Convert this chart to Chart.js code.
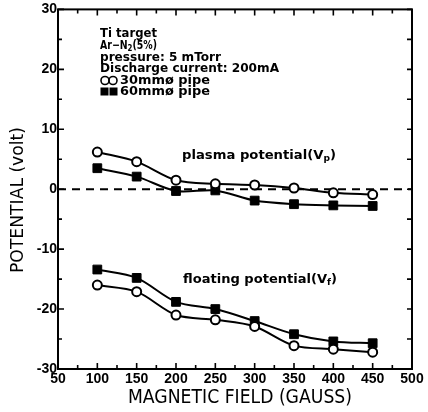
<!DOCTYPE html>
<html>
<head>
<meta charset="utf-8">
<script src="https://cdn.jsdelivr.net/npm/chart.js@4/dist/chart.umd.min.js"></script>
<style>
html,body{margin:0;padding:0;background:#fff;}
#wrap{width:428px;height:412px;}
</style>
</head>
<body>
<div id="wrap"><canvas id="c" width="428" height="412"></canvas></div>
<script>
// ---- data ----
const fields = [100, 150, 200, 250, 300, 350, 400, 450];           // magnetic field (gauss)
const plasma30 = [6.2, 4.6, 1.5, 0.9, 0.7, 0.2, -0.6, -0.9];        // Vp, 30mm pipe (open circles)
const plasma60 = [3.5, 2.1, -0.3, -0.2, -1.9, -2.5, -2.7, -2.8];    // Vp, 60mm pipe (filled squares)
const float30 = [-16.0, -17.1, -21.0, -21.8, -22.9, -26.1, -26.7, -27.2]; // Vf, 30mm pipe
const float60 = [-13.4, -14.8, -18.8, -20.0, -22.0, -24.2, -25.4, -25.7]; // Vf, 60mm pipe
const zeroLine = [50, 500];
const xTicks = [50, 500, 50];   // min, max, step
const yTicks = [-30, 30, 10];

const pts = (arr) => fields.map((f, i) => ({x: f, y: arr[i]}));

const circleStyle = {pointStyle: 'circle', pointRadius: 4.5, pointBorderWidth: 2, pointBackgroundColor: '#fff', pointBorderColor: '#000'};
const squareStyle = {pointStyle: 'rect', pointRadius: 6.2, pointBorderWidth: 1, pointBackgroundColor: '#000', pointBorderColor: '#000'};
const lineBase = {borderColor: '#000', borderWidth: 2, tension: 0.3, fill: false, showLine: true};

function drawFit(ctx, segs, x, y, targetW, font, subFont) {
  // segs: array of [text, isSub]
  let total = 0;
  const widths = segs.map(s => { ctx.font = s[1] ? subFont : font; const w = ctx.measureText(s[0]).width; total += w; return w; });
  const sc = targetW / total;
  ctx.save();
  ctx.translate(x, y);
  ctx.scale(sc, 1);
  ctx.textAlign = 'left';
  ctx.textBaseline = 'middle';
  ctx.fillStyle = '#000';
  let cx = 0;
  segs.forEach((s, i) => {
    ctx.font = s[1] ? subFont : font;
    ctx.fillText(s[0], cx, s[1] ? 3 : 0);
    cx += widths[i];
  });
  ctx.restore();
}

const decor = {
  id: 'decor',
  afterDraw(chart) {
    const ctx = chart.ctx;
    const xs = chart.scales.x, ys = chart.scales.y;
    const a = chart.chartArea;
    ctx.save();
    ctx.strokeStyle = '#000';
    ctx.lineWidth = 2;
    ctx.strokeRect(a.left, a.top, a.right - a.left, a.bottom - a.top);
    ctx.lineWidth = 1.6;
    ctx.beginPath();
    for (let v = yTicks[0]; v <= yTicks[1]; v += 5) {
      const y = ys.getPixelForValue(v);
      const len = (v % 10 === 0) ? 6 : 4;
      ctx.moveTo(a.left, y); ctx.lineTo(a.left + len, y);
      ctx.moveTo(a.right, y); ctx.lineTo(a.right - 5, y);
    }
    for (let v = xTicks[0]; v <= xTicks[1]; v += 25) {
      const x = xs.getPixelForValue(v);
      const len = (v % 50 === 0) ? 6 : 4;
      ctx.moveTo(x, a.bottom); ctx.lineTo(x, a.bottom - len);
      ctx.moveTo(x, a.top); ctx.lineTo(x, a.top + len);
    }
    ctx.stroke();

    const f = "bold 12px 'DejaVu Sans'";
    const fs = "bold 9px 'DejaVu Sans'";
    drawFit(ctx, [['Ti target', false]], 100, 34, 57, f, fs);
    drawFit(ctx, [['Ar\u2212N', false], ['2', true], ['(5%)', false]], 100, 46, 57, f, fs);
    drawFit(ctx, [['pressure: 5 mTorr', false]], 100, 57.5, 121, f, fs);
    drawFit(ctx, [['Discharge current: 200mA', false]], 100, 69, 179, f, fs);
    drawFit(ctx, [['30mm\u00f8 pipe', false]], 120, 80.5, 90, f, fs);
    drawFit(ctx, [['60mm\u00f8 pipe', false]], 120, 92, 90, f, fs);
    // legend glyphs
    ctx.lineWidth = 1.6;
    ctx.beginPath(); ctx.arc(105, 80.5, 4, 0, Math.PI * 2); ctx.stroke();
    ctx.beginPath(); ctx.arc(113, 80.5, 4, 0, Math.PI * 2); ctx.stroke();
    ctx.fillStyle = '#000';
    ctx.fillRect(100.5, 87.5, 8, 8);
    ctx.fillRect(109.5, 87.5, 8, 8);

    const f2 = "bold 13px 'DejaVu Sans'";
    const fs2 = "bold 9px 'DejaVu Sans'";
    drawFit(ctx, [['plasma potential(V', false], ['p', true], [')', false]], 182, 156, 154, f2, fs2);
    drawFit(ctx, [['floating potential(V', false], ['f', true], [')', false]], 183, 280, 154, f2, fs2);

    // axis titles
    drawFit(ctx, [['MAGNETIC FIELD (GAUSS)', false]], 128, 398, 224, "19px 'DejaVu Sans'", fs);
    ctx.save();
    ctx.translate(18, 273);
    ctx.rotate(-Math.PI / 2);
    drawFit(ctx, [['POTENTIAL (volt)', false]], 0, 0, 146, "18px 'DejaVu Sans'", fs);
    ctx.restore();
    ctx.restore();
  }
};

new Chart(document.getElementById('c'), {
  type: 'line',
  data: {
    datasets: [
      Object.assign({label: 'Vp 30mm', data: pts(plasma30)}, lineBase, circleStyle),
      Object.assign({label: 'Vp 60mm', data: pts(plasma60)}, lineBase, squareStyle),
      Object.assign({label: 'Vf 30mm', data: pts(float30)}, lineBase, circleStyle),
      Object.assign({label: 'Vf 60mm', data: pts(float60)}, lineBase, squareStyle),
      {label: 'zero', data: zeroLine.map(x => ({x: x, y: 0})), borderColor: '#000', borderWidth: 2,
       borderDash: [8, 6], pointRadius: 0, tension: 0, fill: false}
    ]
  },
  options: {
    responsive: false,
    devicePixelRatio: 1,
    animation: false,
    layout: {padding: {top: 9, right: 16, left: 0, bottom: 0}},
    plugins: {legend: {display: false}, tooltip: {enabled: false}},
    scales: {
      x: {
        type: 'linear', min: xTicks[0], max: xTicks[1],
        ticks: {stepSize: xTicks[2], color: '#000', font: {family: 'Liberation Sans', size: 14, weight: 'bold'}, padding: 2, maxRotation: 0, autoSkip: false},
        grid: {display: false, drawTicks: false},
        border: {display: false},
        afterFit: (s) => { s.height = 43; }
      },
      y: {
        type: 'linear', min: yTicks[0], max: yTicks[1],
        ticks: {stepSize: yTicks[2], color: '#000', font: {family: 'Liberation Sans', size: 14, weight: 'bold'}, padding: 1},
        grid: {display: false, drawTicks: false},
        border: {display: false},
        afterFit: (s) => { s.width = 58; }
      }
    }
  },
  plugins: [decor]
});
</script>
</body>
</html>
